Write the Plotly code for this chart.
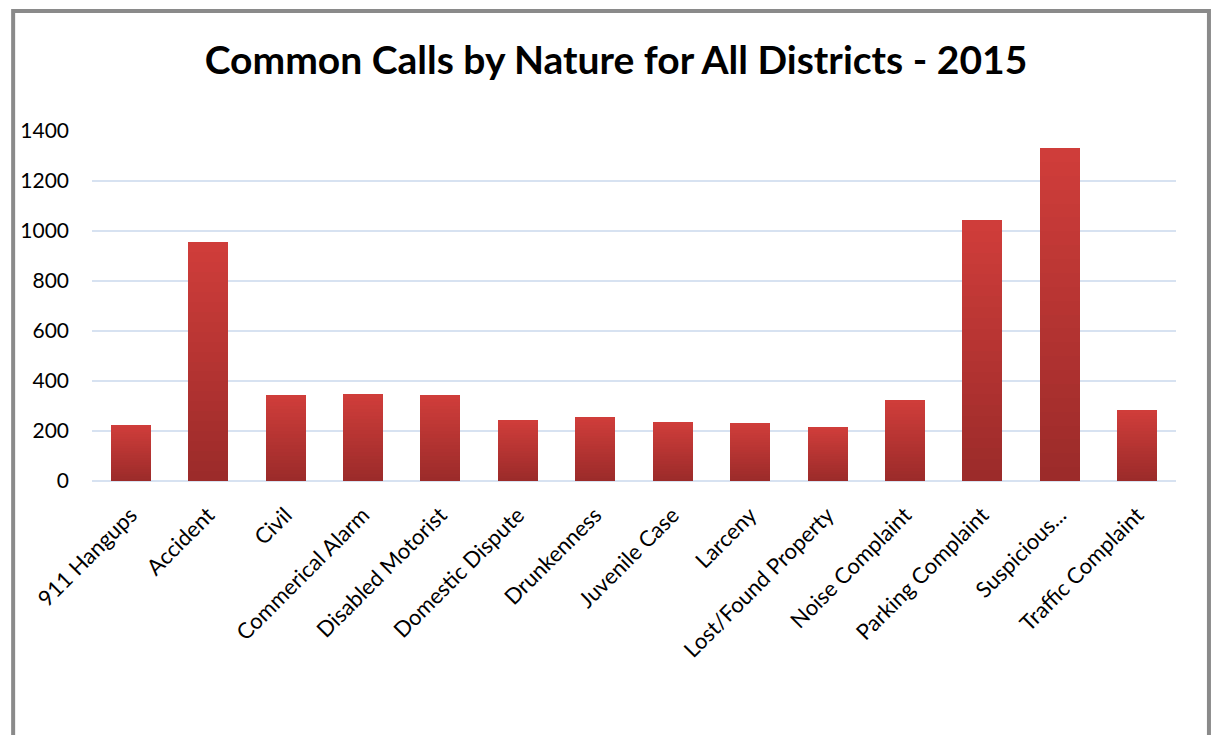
import plotly.graph_objects as go

# call natures and counts
categories = ["911 Hangups", "Accident", "Civil", "Commerical Alarm",
              "Disabled Motorist", "Domestic Dispute", "Drunkenness",
              "Juvenile Case", "Larceny", "Lost/Found Property",
              "Noise Complaint", "Parking Complaint", "Suspicious...",
              "Traffic Complaint"]
calls = [224, 956, 344, 348, 344, 244, 256, 236, 232, 216, 324, 1044, 1332, 284]
y_ticks = [0, 200, 400, 600, 800, 1000, 1200, 1400]

# page body has an 8px margin; keep the figure inside the window
OFF = 8
W, H = 1219 - 2 * OFF, 743 - 2 * OFF
L, R, T, B = 90 - OFF, W - (1176 - OFF), 131 - OFF, H - (481 - OFF)

# fake a vertical gradient by stacking thin slices of each bar
N_SLICES = 24
top_rgb = (207, 61, 58)
bot_rgb = (156, 43, 42)

fig = go.Figure()
for i in range(N_SLICES):
    f = i / (N_SLICES - 1)
    col = tuple(round(b + (t - b) * f) for b, t in zip(bot_rgb, top_rgb))
    fig.add_trace(go.Bar(
        x=categories,
        y=[v / N_SLICES for v in calls],
        marker=dict(color=f"rgb{col}", line=dict(width=0)),
        hoverinfo="skip" if i else None,
        showlegend=False,
    ))

pw = W - L - R
ph = H - T - B
# grey frame around the chart area (extends below the window)
fig.add_shape(type="rect", xref="paper", yref="paper",
              x0=(11 - OFF - L) / pw, x1=(W - 2 - L) / pw,
              y0=-1.2, y1=(H - B - (11 - OFF)) / ph,
              line=dict(color="#8a8a8a", width=4), layer="below")

fig.update_layout(
    width=W, height=H,
    margin=dict(l=L, r=R, t=T, b=B),
    barmode="stack",
    bargap=0.485,
    paper_bgcolor="white",
    plot_bgcolor="white",
    font=dict(family="Lato, Open Sans, sans-serif", color="black"),
    title=dict(text="<b>Common Calls by Nature for All Districts - 2015</b>",
               x=(616 - OFF) / W, xref="container", xanchor="center",
               y=1 - (60 - OFF) / H, yref="container", yanchor="middle",
               font=dict(size=39, color="black")),
)
fig.update_xaxes(tickangle=-45, tickfont=dict(size=22),
                 showgrid=False, showline=False, ticks="",
                 ticklabelstandoff=16)
fig.update_yaxes(range=[0, 1400], tickvals=y_ticks,
                 tickfont=dict(size=21),
                 gridcolor="#D7E2F1", gridwidth=2,
                 zeroline=True, zerolinecolor="#D7E2F1", zerolinewidth=2,
                 showline=False, ticks="", ticklabelstandoff=22)

fig.write_html("out.html")
